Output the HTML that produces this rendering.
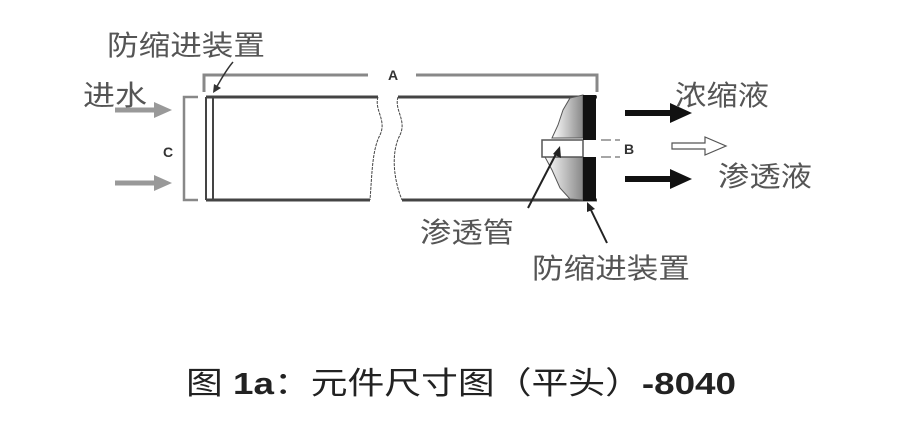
<!DOCTYPE html>
<html><head><meta charset="utf-8"><style>
body{margin:0;background:#fff;}
svg{display:block;}
text{font-family:"Liberation Sans","Noto Sans CJK SC",sans-serif;}
</style></head><body>
<svg width="910" height="440" viewBox="0 0 910 440" xmlns="http://www.w3.org/2000/svg">
<defs>
<linearGradient id="g" x1="0" x2="1"><stop offset="0" stop-color="#fff"/><stop offset="1" stop-color="#888"/></linearGradient>
</defs>
<!-- labels -->
<text x="107" y="55" font-size="28" fill="#555" textLength="158" lengthAdjust="spacingAndGlyphs">防缩进装置</text>
<text x="83" y="105" font-size="28" fill="#555" textLength="64" lengthAdjust="spacingAndGlyphs">进水</text>
<text x="675" y="105" font-size="28" fill="#555" textLength="94" lengthAdjust="spacingAndGlyphs">浓缩液</text>
<text x="718" y="186" font-size="28" fill="#555" textLength="94" lengthAdjust="spacingAndGlyphs">渗透液</text>
<text x="420" y="242" font-size="28" fill="#555" textLength="94" lengthAdjust="spacingAndGlyphs">渗透管</text>
<text x="532" y="278" font-size="28" fill="#555" textLength="158" lengthAdjust="spacingAndGlyphs">防缩进装置</text>
<!-- A bracket -->
<path d="M204,92 V75 H368 M416,75 H597 V92" fill="none" stroke="#888" stroke-width="3"/>
<text x="388" y="80" font-size="14" font-weight="bold" fill="#333">A</text>
<!-- pointer top-left -->
<path d="M233,62 C226,70 222,78 216,88" fill="none" stroke="#333" stroke-width="1.5"/>
<path d="M213,93 L214,84 L221,88 Z" fill="#333"/>
<!-- C bracket -->
<path d="M198,97 H184 V200 H198" fill="none" stroke="#888" stroke-width="2.5"/>
<text x="163" y="157" font-size="14" font-weight="bold" fill="#333">C</text>
<!-- gray arrows -->
<path d="M115,110 H158" stroke="#999" stroke-width="5"/><path d="M154,102 L172,110 L154,118 Z" fill="#999"/>
<path d="M115,183 H158" stroke="#999" stroke-width="5"/><path d="M154,175 L172,183 L154,191 Z" fill="#999"/>
<!-- tube -->
<path d="M206,97 V200 M213,97 V200" stroke="#444" stroke-width="2"/>
<path d="M206,97 H378 M206,200 H370" stroke="#444" stroke-width="3"/>
<path d="M398,97 H597 M402,200 H597" stroke="#444" stroke-width="3"/>
<path d="M378,97 C374,110 387,120 380,135 C372,150 372,175 370,200" fill="none" stroke="#444" stroke-width="1" stroke-dasharray="3,1"/>
<path d="M398,97 C394,110 407,120 400,135 C392,150 392,175 402,200" fill="none" stroke="#444" stroke-width="1" stroke-dasharray="3,1"/>
<!-- cutaway -->
<path d="M583,95 L570,98 L563,110 L558,125 L552,138 H583 Z" fill="url(#g)" stroke="#555" stroke-width="1"/>
<path d="M583,157 H545 L552,170 L560,188 L570,199 L583,200 Z" fill="url(#g)" stroke="#555" stroke-width="1"/>
<rect x="542" y="140" width="41" height="17" fill="#fff" stroke="#555" stroke-width="1.5"/>
<rect x="583" y="95" width="13" height="45" fill="#111"/>
<rect x="583" y="157" width="13" height="44" fill="#111"/>
<!-- B -->
<path d="M601,140 H620 M601,157 H620" stroke="#888" stroke-width="1.5" stroke-dasharray="10,4"/>
<text x="624" y="154" font-size="14" font-weight="bold" fill="#333">B</text>
<!-- pointers -->
<path d="M528,208 L557,152" stroke="#222" stroke-width="2"/><path d="M560,146 L561,158 L553,154 Z" fill="#222"/>
<path d="M607,243 L590,208" stroke="#222" stroke-width="2"/><path d="M587,202 L595,209 L587,212 Z" fill="#222"/>
<!-- out arrows -->
<path d="M625,113 H675" stroke="#111" stroke-width="6"/><path d="M670,103 L692,113 L670,123 Z" fill="#111"/>
<path d="M625,179 H675" stroke="#111" stroke-width="6"/><path d="M670,169 L692,179 L670,189 Z" fill="#111"/>
<path d="M672,143 H705 V137 L726,146 L705,155 V149 H672 Z" fill="#fff" stroke="#555" stroke-width="1.2"/>
<!-- caption -->
<text x="186" y="394" font-size="31" fill="#222" textLength="550" lengthAdjust="spacingAndGlyphs">图 <tspan font-weight="bold">1a</tspan>：元件尺寸图（平头）<tspan font-weight="bold">-8040</tspan></text>
</svg>
</body></html>
